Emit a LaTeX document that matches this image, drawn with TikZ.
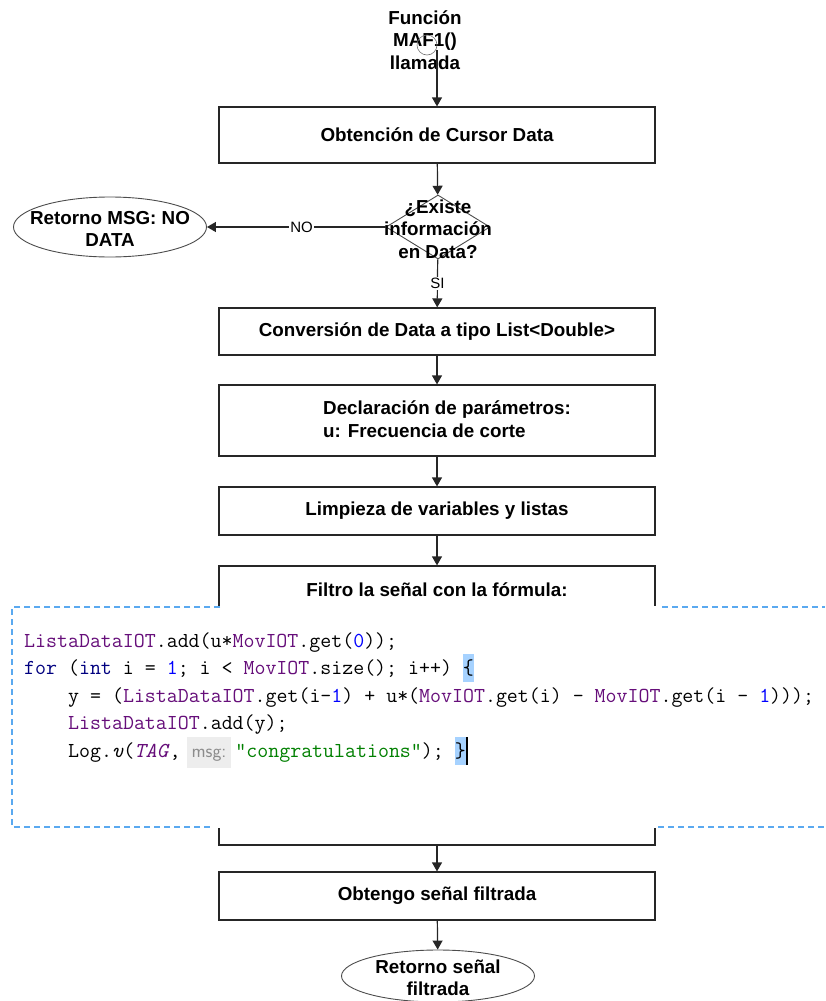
\documentclass[tikz,border=0pt]{standalone}
\usepackage{fontspec}
\setmainfont{Liberation Sans}
\usetikzlibrary{arrows.meta,shapes.geometric}
\usepackage{xcolor}
\definecolor{fldpurple}{HTML}{660E7A}
\definecolor{kwnavy}{HTML}{000080}
\definecolor{numblue}{HTML}{0000FF}
\definecolor{strgreen}{HTML}{008000}
\definecolor{hlblue}{HTML}{A6D2FF}
\definecolor{hintgray}{HTML}{EDEDED}
\definecolor{dashblue}{HTML}{5AA9F0}
\newcommand{\codefld}[1]{\textcolor{fldpurple}{#1}}
\newcommand{\codekw}[1]{\textcolor{kwnavy}{#1}}
\newcommand{\codenum}[1]{\textcolor{numblue}{#1}}
\newcommand{\codestr}[1]{\textcolor{strgreen}{#1}}
\newcommand{\hlbrace}[1]{{\setlength{\fboxsep}{0pt}\colorbox{hlblue}{\rule[-8pt]{0pt}{28pt}#1}}}
\newcommand{\msghint}[1]{{\setlength{\fboxsep}{5pt}\colorbox{hintgray}{\rule[-6pt]{0pt}{21pt}\sffamily\fontsize{19}{19}\selectfont\textcolor{black!45}{#1}}}}

\begin{document}
\begin{tikzpicture}[x=1pt,y=-1pt,>={Triangle[length=9pt,width=10pt]},line cap=butt,
  font=\bfseries\fontsize{18.8}{22.5}\selectfont,
  procbox/.style={draw=black!85,line width=1.2pt,minimum width=436pt,inner sep=0pt},
  termbox/.style={ellipse,draw=black!70,line width=0.9pt,inner sep=0pt},
  flow/.style={->,draw=black!85,line width=1.2pt},
  lbl/.style={fill=white,inner sep=1pt,font=\fontsize{15}{15}\selectfont},
  codeline/.style={anchor=base west,inner sep=0pt,font=\ttfamily\fontsize{21.3}{21.3}\selectfont}]
\useasboundingbox (0,0) rectangle (825,1001);

% inicio
\node[align=center] (title) at (425,40) {Función\\MAF1()\\llamada};
\node[circle,draw=black!55,line width=0.6pt,minimum size=20pt,inner sep=0pt] (conn) at (427,45) {};
\node[procbox,minimum height=56pt] (cursor) at (437,135) {Obtención de Cursor Data};
\node[diamond,draw=black!70,line width=0.9pt,minimum width=104pt,minimum height=64pt,inner sep=0pt] (check) at (438,227) {};
\node[align=center] (question) at (438,229) {¿Existe\\información\\en Data?};
\node[termbox,minimum width=193pt,minimum height=60pt] (nodata) at (110,227) {};
\node[align=center] (nodatatext) at (110,229) {Retorno MSG: NO\\DATA};

% proceso
\node[procbox,minimum height=47pt] (convert) at (437,331.5) {Conversión de Data a tipo List<Double>};
\node[procbox,minimum height=71pt] (params) at (437,420.5) {};
\node[anchor=west,align=left,inner sep=0pt] (paramstext) at (323,419) {Declaración de parámetros:\\u: Frecuencia de corte};
\node[procbox,minimum height=48pt] (clean) at (437,511) {Limpieza de variables y listas};
\node[procbox,minimum height=279pt] (filter) at (437,705.5) {};
\node (filtertext) at (437,590) {Filtro la señal con la fórmula:};

% captura del codigo
\fill[white] (4,606) rectangle (825,828);
\draw[dashblue,line width=1.2pt,dash pattern=on 6pt off 4pt] (220,607) -- (12,607) -- (12,827) -- (213,827);
\draw[dashblue,line width=1.2pt,dash pattern=on 6pt off 4pt] (662,607) -- (825,607);
\draw[dashblue,line width=1.2pt,dash pattern=on 6pt off 4pt] (658,827) -- (825,827);
\node[codeline] (code1) at (24,647) {\codefld{ListaDataIOT}.add(u*\codefld{MovIOT}.get(\codenum{0}));};
\node[codeline] (code2) at (24,674) {\codekw{for} (\codekw{int} i = \codenum{1}; i < \codefld{MovIOT}.size(); i++) \hlbrace{\{}};
\node[codeline] (code3) at (68,702) {y = (\codefld{ListaDataIOT}.get(i-\codenum{1}) + u*(\codefld{MovIOT}.get(i) - \codefld{MovIOT}.get(i - \codenum{1})));};
\node[codeline] (code4) at (68,729) {\codefld{ListaDataIOT}.add(y);};
\node[codeline] (code5) at (68,757) {Log.\textit{v}(\textcolor{fldpurple}{\textit{TAG}},\hspace{6pt}\msghint{msg:}\hspace{4pt}\codestr{"congratulations"});~\hlbrace{\}}\rule[-8pt]{2pt}{28pt}};

% final
\node[procbox,minimum height=48pt] (result) at (437,896) {Obtengo señal filtrada};
\node[termbox,minimum width=193pt,minimum height=52pt] (ret) at (438,976) {};
\node[align=center] (rettext) at (438,978) {Retorno señal\\filtrada};

% conectores
\draw[flow] (conn.-30) -| (cursor);
\draw[flow] (cursor) -- (check);
\draw[flow] (check) -- node[lbl,pos=0.47]{NO} (nodata);
\draw[flow] (check) -- node[lbl,pos=0.5]{SI} (convert);
\draw[flow] (convert) -- (params);
\draw[flow] (params) -- (clean);
\draw[flow] (clean) -- (filter);
\draw[flow] (filter) -- (result);
\draw[flow] (result) -- (ret);
\end{tikzpicture}
\end{document}
